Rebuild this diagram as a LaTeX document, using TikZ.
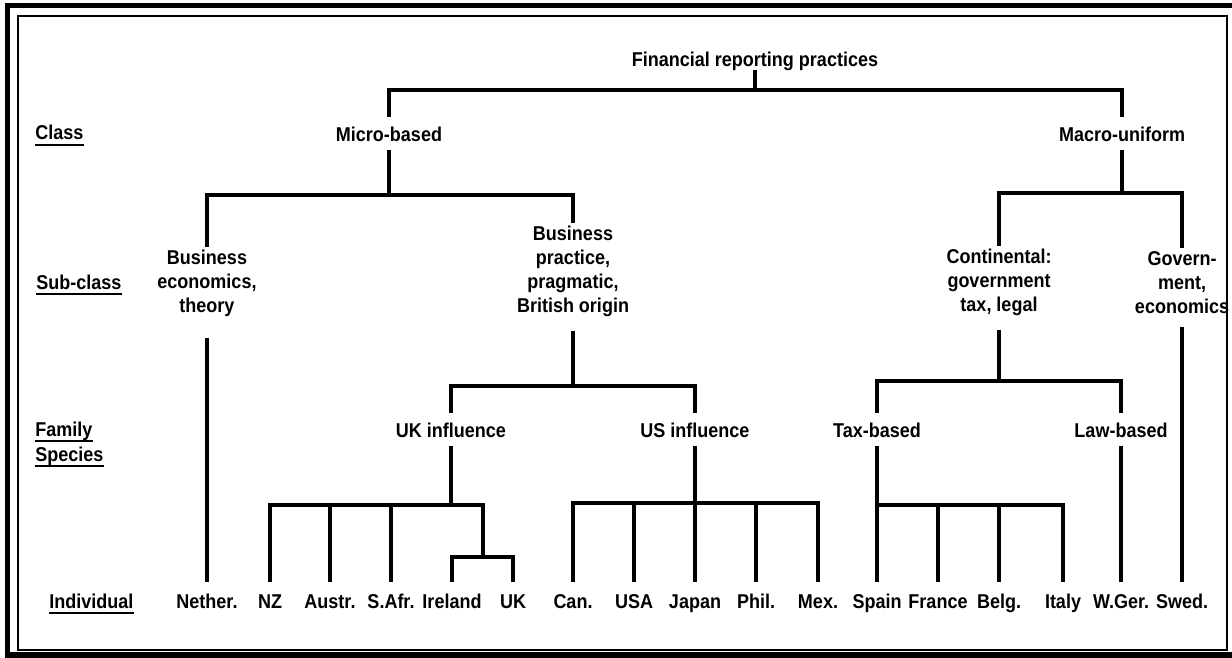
\documentclass[tikz,border=0pt]{standalone}
\usepackage{fontspec}
\setmainfont{Liberation Sans}[FakeStretch=0.9]
\begin{document}
\begin{tikzpicture}[x=0.5pt,y=-0.5pt,
  every node/.style={font=\fontsize{10}{12}\selectfont\bfseries, inner xsep=1pt},
  lab/.style={text height=10.5pt,text depth=3pt,inner ysep=1.5pt,anchor=base},
  leaf/.style={text height=11.5pt,text depth=2pt,inner ysep=1.5pt,anchor=base},
  multi/.style={align=center,inner ysep=1.5pt,anchor=north},
  side/.style={inner sep=0pt,anchor=base west},
  tree/.style={line width=1.7pt},
  ulline/.style={line width=1.1pt}]
\useasboundingbox (0,0) rectangle (1232,658);
% frame
\draw[line width=2.6pt] (7.5,5.5) rectangle (1236,655);
\draw[line width=0.8pt] (18,16) rectangle (1227,650);

% side labels
\node[side] (cls) at (35,140) {Class};
\node[side] (sub) at (36,289) {Sub-class};
\node[side] (fam) at (35,436) {Family};
\node[side] (spe) at (35,461) {Species};
\node[side] (ind) at (49,608) {Individual};
\foreach \n in {cls,sub,fam,spe,ind}
  \draw[ulline] ([yshift=-2.5pt]\n.base west) -- ([yshift=-2.5pt]\n.base east);

% tree nodes
\node[lab] (root) at (755,67) {Financial reporting practices};
\node[lab] (micro) at (389,141) {Micro-based};
\node[lab] (macro) at (1122,141) {Macro-uniform};
\node[multi] (bet) at (207,247) {Business\\economics,\\theory};
\node[multi] (bpp) at (573,223) {Business\\practice,\\pragmatic,\\British origin};
\node[multi] (cont) at (999,246) {Continental:\\government\\tax, legal};
\node[multi] (gov) at (1182,248) {Govern-\\ment,\\economics};
\node[lab] (uk) at (451,437) {UK influence};
\node[lab] (us) at (695,437) {US influence};
\node[lab] (tax) at (877,437) {Tax-based};
\node[lab] (law) at (1121,437) {Law-based};

% leaves
\node[leaf] (nether) at (207,608) {Nether.};
\node[leaf] (nz) at (270,608) {NZ};
\node[leaf] (austr) at (330,608) {Austr.};
\node[leaf] (safr) at (391,608) {S.Afr.};
\node[leaf] (ireland) at (452,608) {Ireland};
\node[leaf] (ukl) at (513,608) {UK};
\node[leaf] (can) at (573,608) {Can.};
\node[leaf] (usa) at (634,608) {USA};
\node[leaf] (japan) at (695,608) {Japan};
\node[leaf] (phil) at (756,608) {Phil.};
\node[leaf] (mex) at (818,608) {Mex.};
\node[leaf] (spain) at (877,608) {Spain};
\node[leaf] (france) at (938,608) {France};
\node[leaf] (belg) at (999,608) {Belg.};
\node[leaf] (italy) at (1063,608) {Italy};
\node[leaf] (wger) at (1121,608) {W.Ger.};
\node[leaf] (swed) at (1182,608) {Swed.};

% bar levels
\coordinate (b0) at (0,90);
\coordinate (b1) at (0,195);
\coordinate (b1r) at (0,193);
\coordinate (b2) at (0,386);
\coordinate (b2r) at (0,381);
\coordinate (b3) at (0,505);
\coordinate (b4) at (0,503);
\coordinate (b5) at (0,505);
\coordinate (iu) at (483,557);

% connectors
\draw[tree] ([yshift=3pt]root.south) -- (root.south |- b0);
\draw[tree] (micro.north) |- (root.south |- b0) -| (macro.north);

\draw[tree] (micro.south) -- (micro.south |- b1);
\draw[tree] (bet.north) |- (micro.south |- b1) -| (bpp.north);
\draw[tree] (macro.south) -- (macro.south |- b1r);
\draw[tree] (cont.north) |- (macro.south |- b1r) -| (gov.north);

\draw[tree] ([yshift=-9pt]bet.south) -- (nether.north);
\draw[tree] ([yshift=-5pt]gov.south) -- (swed.north);

\draw[tree] ([yshift=-5pt]bpp.south) -- (bpp.south |- b2);
\draw[tree] (uk.north) |- (bpp.south |- b2) -| (us.north);
\draw[tree] ([yshift=-5pt]cont.south) -- (cont.south |- b2r);
\draw[tree] (tax.north) |- (cont.south |- b2r) -| (law.north);

% UK influence
\draw[tree] (uk.south) -- (uk.south |- b3);
\draw[tree] (nz.north) |- (iu |- b3) -- (iu);
\draw[tree] (austr.north) -- (austr.north |- b3);
\draw[tree] (safr.north) -- (safr.north |- b3);
\draw[tree] (ireland.north) |- (iu) -| (ukl.north);

% US influence
\draw[tree] (us.south) -- (japan.north);
\draw[tree] (can.north) |- (us.south |- b4) -| (mex.north);
\draw[tree] (usa.north) -- (usa.north |- b4);
\draw[tree] (phil.north) -- (phil.north |- b4);

% Tax-based
\draw[tree] (tax.south) -- (spain.north);
\draw[tree] (tax.south |- b5) -| (italy.north);
\draw[tree] (france.north) -- (france.north |- b5);
\draw[tree] (belg.north) -- (belg.north |- b5);

% Law-based
\draw[tree] (law.south) -- (wger.north);
\end{tikzpicture}
\end{document}
